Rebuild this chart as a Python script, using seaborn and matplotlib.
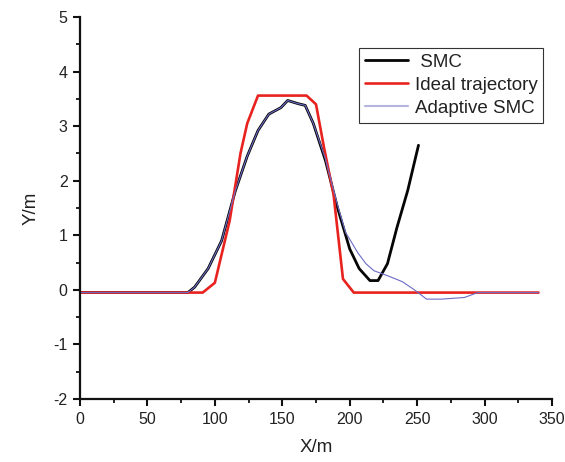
import matplotlib
matplotlib.use("Agg")
import matplotlib.pyplot as plt
from matplotlib.ticker import MultipleLocator
import seaborn as sns
import pandas as pd

# Lateral position (Y) along the path (X) for the lane-change manoeuvre
x_ideal = [0, 91, 100, 111, 119, 124, 132, 168, 175, 181, 188, 195, 203, 340]
y_ideal = [-0.05, -0.05, 0.13, 1.27, 2.5, 3.05, 3.56, 3.56, 3.4, 2.6, 1.75, 0.2, -0.05, -0.05]

x_smc = [0, 80, 85, 95, 105, 115, 124, 132, 140, 149, 154, 162, 167, 173, 182,
         191, 200, 207, 215, 221, 228, 235, 243, 251]
y_smc = [-0.05, -0.05, 0.05, 0.39, 0.9, 1.8, 2.45, 2.92, 3.22, 3.34, 3.47, 3.41,
         3.38, 3.05, 2.37, 1.5, 0.75, 0.39, 0.17, 0.17, 0.48, 1.14, 1.82, 2.65]

x_asmc = [0, 80, 85, 95, 105, 115, 124, 132, 140, 149, 154, 162, 167, 173, 182,
          191, 197, 206, 212, 218, 228, 239, 248, 257, 268, 285, 295, 340]
y_asmc = [-0.05, -0.05, 0.05, 0.39, 0.9, 1.8, 2.45, 2.92, 3.22, 3.34, 3.47, 3.41,
          3.38, 3.05, 2.4, 1.55, 1.05, 0.68, 0.48, 0.35, 0.26, 0.15, 0.0, -0.17,
          -0.17, -0.14, -0.05, -0.05]

labels = [" SMC", "Ideal trajectory", "Adaptive SMC"]

sns.set_theme(style="ticks")
plt.rcParams["font.family"] = ["Liberation Sans", "DejaVu Sans"]
plt.rcParams["axes.unicode_minus"] = False

fig = plt.figure(figsize=(5.65, 4.62), dpi=100)
ax = fig.add_axes([80 / 565, 1 - 399 / 462, (552 - 80) / 565, (399 - 17) / 462])

df_smc = pd.DataFrame({"x": x_smc, "y": y_smc})
df_ideal = pd.DataFrame({"x": x_ideal, "y": y_ideal})
df_asmc = pd.DataFrame({"x": x_asmc, "y": y_asmc})

sns.lineplot(data=df_smc, x="x", y="y", ax=ax, color="#050505", lw=2.0,
             sort=False, estimator=None, label=labels[0])
sns.lineplot(data=df_ideal, x="x", y="y", ax=ax, color="#e8231f", lw=1.9,
             sort=False, estimator=None, label=labels[1])
sns.lineplot(data=df_asmc, x="x", y="y", ax=ax, color="#6c6cc6", lw=0.8,
             sort=False, estimator=None, label=labels[2])

ax.set_xlim(0, 350)
ax.set_ylim(-2, 5)
ax.xaxis.set_major_locator(MultipleLocator(50))
ax.xaxis.set_minor_locator(MultipleLocator(25))
ax.yaxis.set_major_locator(MultipleLocator(1))
ax.yaxis.set_minor_locator(MultipleLocator(0.5))

for side in ("top", "right"):
    ax.spines[side].set_visible(False)
for side in ("left", "bottom"):
    ax.spines[side].set_linewidth(1.6)
    ax.spines[side].set_color("#111111")

ax.tick_params(which="major", direction="out", length=5, width=1.5,
               labelsize=11.5, pad=4, color="#111111", labelcolor="#222222")
ax.tick_params(which="minor", direction="out", length=3, width=1.3,
               color="#111111")

ax.set_xlabel("X/m", fontsize=13.5, labelpad=9, color="#222222")
ax.set_ylabel("Y/m", fontsize=13.5, labelpad=10, color="#222222")

leg = ax.legend(loc="upper right", bbox_to_anchor=(543 / 565, 1 - 48 / 462),
                bbox_transform=fig.transFigure, borderaxespad=0,
                fontsize=13.5, frameon=True, fancybox=False,
                handlelength=2.3, handletextpad=0.35, labelspacing=0.32,
                borderpad=0.3)
frame = leg.get_frame()
frame.set_edgecolor("#333333")
frame.set_linewidth(0.8)
frame.set_alpha(1)
leg.get_lines()[2].set_color("#b4b4dc")
leg.get_lines()[2].set_linewidth(1.5)
for t in leg.get_texts():
    t.set_color("#222222")

fig.savefig("out.png", dpi=100)
